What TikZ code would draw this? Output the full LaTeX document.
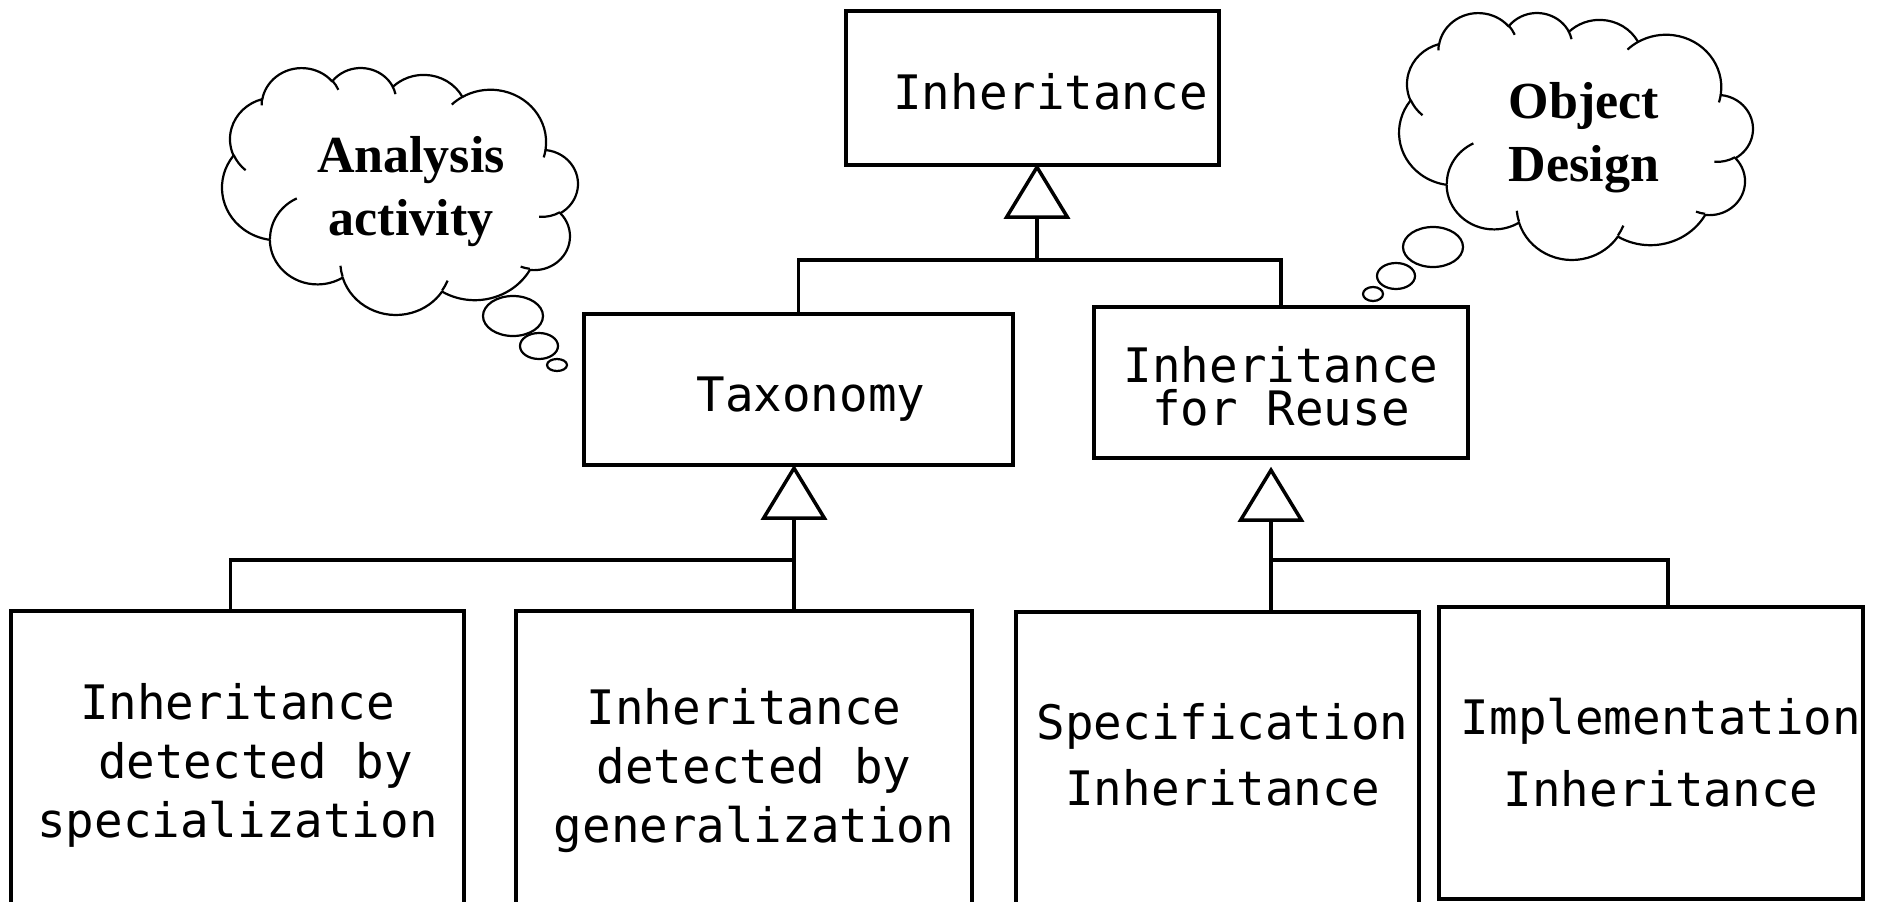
\documentclass[tikz,border=0pt]{standalone}
\usepackage{fontspec}
\newfontfamily\monof{DejaVu Sans Mono}
\newfontfamily\serifb{Liberation Serif}
\usetikzlibrary{arrows.meta}
\tikzset{
  officecloud/.pic={
    \draw[line width=2.2pt, line join=round] (390,1437)
      arc[start angle=-187.747, delta angle=128.112, x radius=675.3, y radius=919]
      arc[start angle=-152.026, delta angle=106.602, x radius=533.3, y radius=726.7]
      arc[start angle=-153.487, delta angle=116.158, x radius=436.5, y radius=594.5]
      arc[start angle=-139.693, delta angle=129.482, x radius=485.7, y radius=659.5]
      arc[start angle=-74.768, delta angle=97.980, x radius=533.3, y radius=727.3]
      arc[start angle=-37.534, delta angle=119.396, x radius=677.5, y radius=922]
      arc[start angle=0.4596, delta angle=121.52, x radius=578.5, y radius=786.7]
      arc[start angle=16.845, delta angle=129.406, x radius=675.2, y radius=921.5]
      arc[start angle=58.985, delta angle=91.209, x radius=772, y radius=1054.3]
      arc[start angle=83.306, delta angle=139.826, x radius=436, y radius=591.8]
      arc[start angle=120.353, delta angle=143.760, x radius=434.5, y radius=594.5]
      -- cycle;
    \draw[line width=2.2pt]
      (469.3,2617.7) arc[start angle=85.547, delta angle=34.806, x radius=434.5, y radius=594.5]
      (692.8,3489.9) arc[start angle=68.236, delta angle=15.07, x radius=436, y radius=591.8]
      (1647.8,3909) arc[start angle=146.251, delta angle=12.22, x radius=675.2, y radius=921.5]
      (2882.7,3475.1) arc[start angle=4.738, delta angle=12.107, x radius=675.2, y radius=921.5]
      (3412.9,2295.4) arc[start angle=-64.027, delta angle=64.487, x radius=578.5, y radius=786.7]
      (4179.8,1535.4) arc[start angle=23.212, delta angle=26.412, x radius=533.3, y radius=727.3]
      (3832.4,542.6) arc[start angle=-10.211, delta angle=11.032, x radius=485.7, y radius=659.5]
      (2907.8,395.2) arc[start angle=-156.287, delta angle=16.594, x radius=485.7, y radius=659.5]
      (2214.1,472) arc[start angle=-167.727, delta angle=14.24, x radius=436.5, y radius=594.5]
      (1400,519.2) arc[start angle=-59.635, delta angle=13.893, x radius=675.3, y radius=919]
      (412.7,1578.9) arc[start angle=163.194, delta angle=9.059, x radius=675.3, y radius=919];
  }
}
\begin{document}
\begin{tikzpicture}[x=1pt,y=-1pt,
  box/.style={draw, line width=3.5pt, inner sep=0pt},
  boxtext/.style={inner sep=0pt, align=center, font=\monof\fontsize{47.5}{59}\selectfont},
  conn/.style={line width=3.5pt},
  gen/.style={conn, -{Triangle[open, length=55pt, width=66pt, line width=3.5pt]}},
  thoughttext/.style={align=center, inner sep=0pt, font=\serifb\bfseries\fontsize{52}{63}\selectfont},
  bubble/.style={line width=2.2pt}]
\useasboundingbox (0,0) rectangle (1879,902);
\clip (0,0) rectangle (1879,902);

% boxes
\node[box, minimum width=373pt, minimum height=154pt] (inh) at (1032.5,88) {};
\node[boxtext] (inht) at (1050.5,91.6) {Inheritance};
\node[box, minimum width=429pt, minimum height=151pt] (tax) at (798.5,389.5) {};
\node[boxtext] (taxt) at (811,399.5) {Taxonomy};
\node[box, minimum width=374pt, minimum height=151pt] (reuse) at (1281,382.5) {};
\node[boxtext, font=\monof\fontsize{47.5}{43}\selectfont] (reuset) at (1281,386) {Inheritance\\for Reuse};
\node[box, minimum width=453pt, minimum height=304pt] (b1) at (237.5,763) {};
\node[boxtext] (b1t) at (237.5,765.5) {Inheritance\\\hspace*{36pt}detected by\\specialization};
\node[box, minimum width=456pt, minimum height=312pt] (b2) at (744,767) {};
\node[boxtext] (b2t) at (744,770.6) {Inheritance\\\hspace*{20pt}detected by\\\hspace*{20pt}generalization};
\node[box, minimum width=403pt, minimum height=310pt] (b3) at (1217.5,767) {};
\node[boxtext, font=\monof\fontsize{47.5}{66}\selectfont] (b3t) at (1222.5,755) {Specification\\Inheritance};
\node[box, minimum width=424pt, minimum height=292pt] (b4) at (1651,753) {};
\node[boxtext, font=\monof\fontsize{47.5}{72}\selectfont] (b4t) at (1651,753) {\hspace*{20pt}Implementation\\\hspace*{20pt}Inheritance};

% generalization connectors
\coordinate (j1) at (1037,260);
\draw[conn] (tax.north) |- (j1) -| (reuse.north);
\draw[gen, shorten >=-3pt] (j1) -- (inh.south -| j1);

\coordinate (j2) at (794,560);
\draw[conn] ([xshift=-7pt]b1.north) |- (j2);
\draw[gen, shorten >=-2pt] (b2.north -| j2) -- (tax.south -| j2);

\coordinate (j3) at (1271,560);
\draw[gen, shorten >=7pt] (b3.north -| j3) -- (reuse.south -| j3);
\draw[conn] (j3) -| ([xshift=17pt]b4.north);

% thought clouds (mirrored cloud outline)
\begin{scope}[shift={(577.7,67.2)}, x=-0.0823pt, y=-0.05715pt]
  \pic {officecloud};
\end{scope}
\node[thoughttext] (c1t) at (411,192) {Analysis\\activity};
\draw[bubble] (513,316) ellipse [x radius=30, y radius=20];
\draw[bubble] (539,346) ellipse [x radius=19, y radius=13];
\draw[bubble] (557,365) ellipse [x radius=10, y radius=6];

\begin{scope}[shift={(1752.7,12.2)}, x=-0.08184pt, y=-0.05715pt]
  \pic {officecloud};
\end{scope}
\node[thoughttext] (c2t) at (1584,138) {Object\\Design};
\draw[bubble] (1433,247) ellipse [x radius=30, y radius=20];
\draw[bubble] (1396,276) ellipse [x radius=19, y radius=13];
\draw[bubble] (1373,294) ellipse [x radius=10, y radius=7];
\end{tikzpicture}
\end{document}
